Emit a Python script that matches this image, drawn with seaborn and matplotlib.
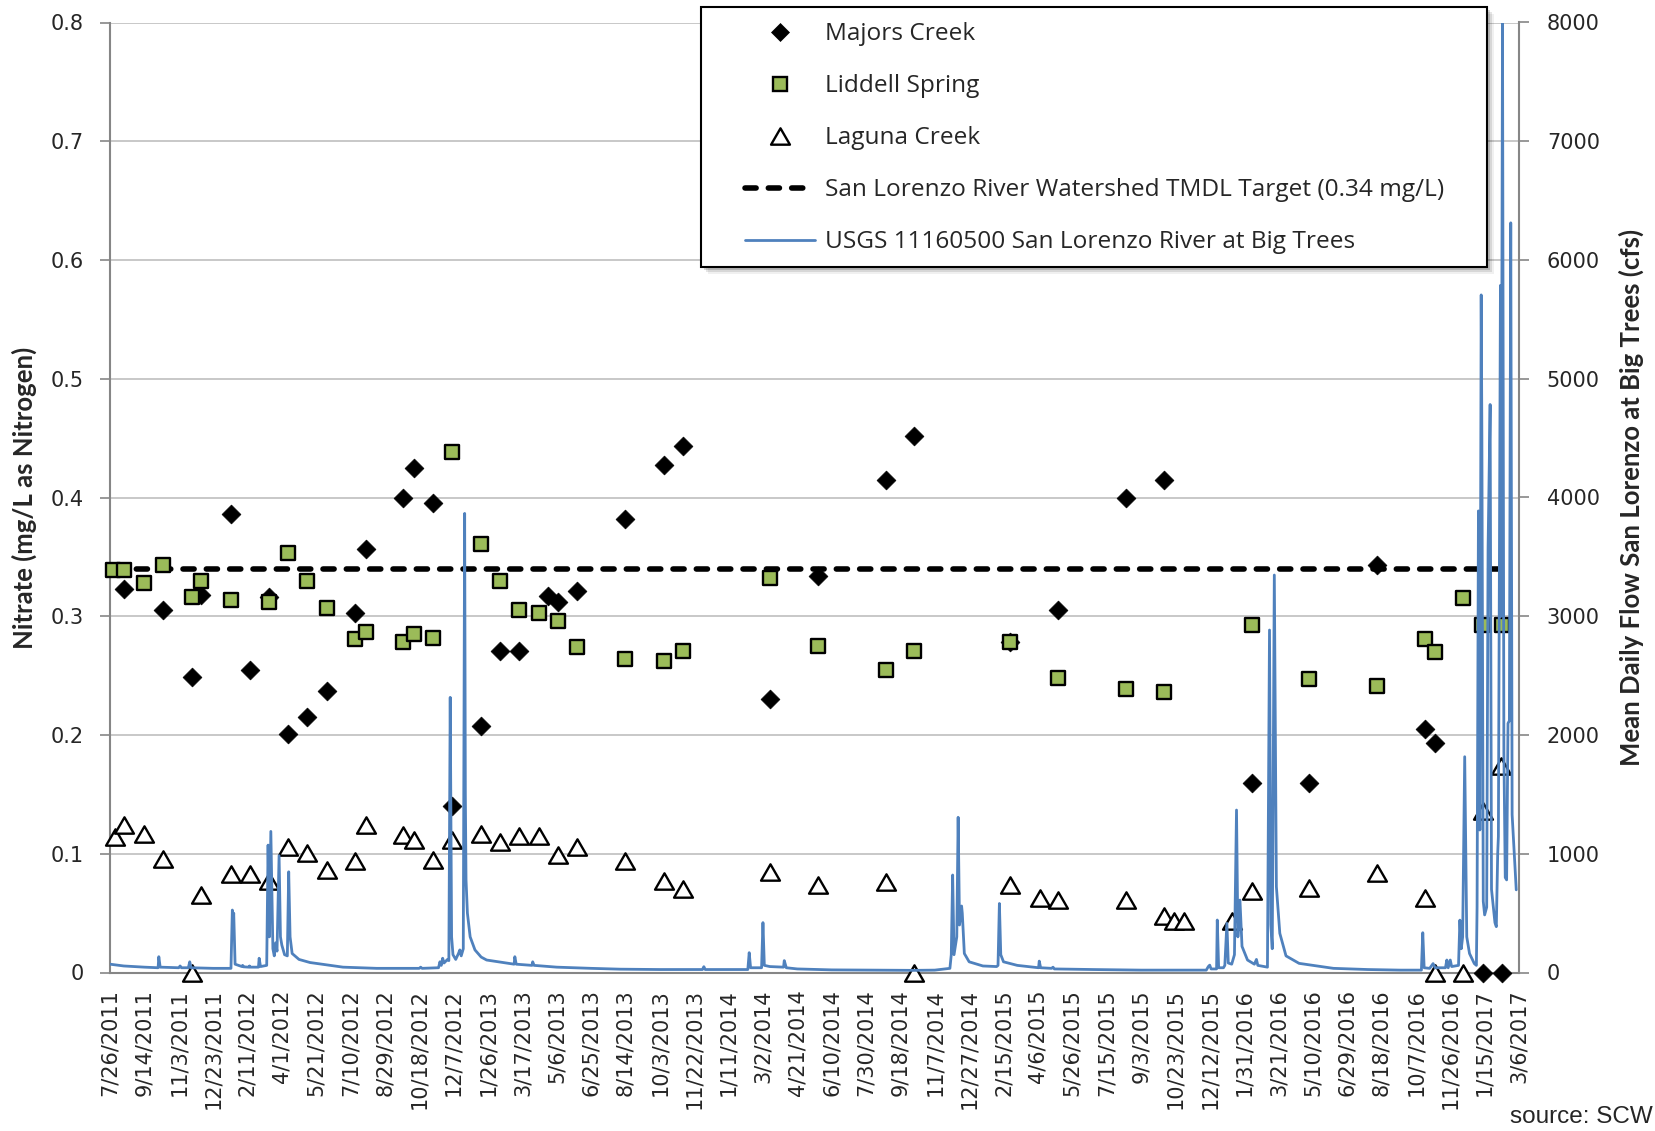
import numpy as np
import pandas as pd
import matplotlib
matplotlib.use("Agg")
import matplotlib.pyplot as plt
from matplotlib.lines import Line2D
from matplotlib.patches import Rectangle
from matplotlib.path import Path
from matplotlib.ticker import FuncFormatter
from matplotlib.font_manager import FontProperties
import seaborn as sns

# ---------------- data ----------------
START = "2011-07-26"
END = "2017-03-06"
TICK_STEP_DAYS = 50

# sample dates are given as days after 7/26/2011
majors_day = [21, 77, 119, 133, 176, 203, 231, 259, 287, 315, 357, 372, 427, 442, 470,
              497, 540, 567, 595, 637, 652, 680, 750, 806, 834, 960, 1030, 1129, 1170,
              1310, 1380, 1478, 1534, 1661, 1745, 1843, 1913, 1928, 1998, 2025]
majors_no3 = [0.323, 0.305, 0.249, 0.318, 0.386, 0.255, 0.316, 0.201, 0.215, 0.237,
              0.303, 0.357, 0.400, 0.425, 0.395, 0.140, 0.208, 0.271, 0.271, 0.317,
              0.312, 0.321, 0.382, 0.427, 0.443, 0.230, 0.334, 0.415, 0.452, 0.278,
              0.305, 0.400, 0.415, 0.160, 0.160, 0.343, 0.205, 0.193, 0.0, 0.0]

liddell_day = [4, 21, 49, 77, 119, 133, 176, 231, 259, 287, 315, 357, 372, 427, 442, 470,
               497, 540, 567, 595, 624, 652, 680, 750, 806, 834, 960, 1030, 1129, 1170,
               1310, 1380, 1478, 1534, 1661, 1745, 1843, 1913, 1928, 1969, 1996, 2025]
liddell_no3 = [0.339, 0.339, 0.328, 0.343, 0.316, 0.330, 0.314, 0.312, 0.353, 0.330,
               0.307, 0.281, 0.287, 0.278, 0.285, 0.282, 0.438, 0.361, 0.330, 0.305,
               0.303, 0.296, 0.274, 0.264, 0.262, 0.271, 0.332, 0.275, 0.255, 0.271,
               0.278, 0.248, 0.239, 0.236, 0.293, 0.247, 0.241, 0.281, 0.270, 0.315,
               0.293, 0.293]

laguna_day = [7, 21, 49, 77, 119, 133, 176, 203, 231, 259, 287, 315, 357, 372, 427, 442,
              470, 497, 540, 567, 595, 624, 652, 680, 750, 806, 834, 960, 1030, 1129,
              1170, 1310, 1353, 1380, 1478, 1534, 1548, 1562, 1632, 1661, 1745, 1843,
              1913, 1928, 1969, 1997, 2024]
laguna_no3 = [0.114, 0.124, 0.117, 0.096, 0.0, 0.065, 0.083, 0.083, 0.077, 0.106,
              0.101, 0.086, 0.094, 0.124, 0.116, 0.112, 0.095, 0.112, 0.117, 0.110,
              0.115, 0.115, 0.099, 0.106, 0.094, 0.077, 0.070, 0.085, 0.074, 0.076,
              0.0, 0.074, 0.063, 0.061, 0.061, 0.048, 0.043, 0.043, 0.043, 0.069,
              0.071, 0.084, 0.063, 0.0, 0.0, 0.136, 0.174]

tmdl_target = 0.34

# USGS daily flow (cfs), read at the visible turning points of the hydrograph
flow_day = [0, 20, 50, 70, 71, 73, 100, 102, 104, 114, 116, 118, 150, 176, 178, 179, 180,
            182, 192, 193, 194, 202, 203, 204, 216, 217, 219, 228, 230, 232, 234, 237, 239,
            241, 243, 246, 248, 250, 254, 258, 260, 262, 265, 275, 291, 320, 339, 388, 450,
            452, 454, 478, 480, 482, 484, 486, 491, 493, 495, 497, 499, 503, 507, 509, 511,
            514, 516, 517, 518, 520, 524, 531, 540, 548, 582, 588, 589, 591, 614, 615, 617,
            650, 700, 742, 800, 862, 864, 866, 928, 930, 932, 948, 950, 952, 960, 980, 981,
            984, 1000, 1050, 1100, 1169, 1200, 1215, 1222, 1224, 1226, 1228, 1232, 1234,
            1236, 1239, 1240, 1243, 1250, 1270, 1290, 1292, 1294, 1296, 1300, 1320, 1351,
            1352, 1354, 1370, 1372, 1374, 1430, 1500, 1595, 1598, 1600, 1602, 1610, 1611,
            1613, 1620, 1622, 1625, 1627, 1632, 1636, 1639, 1641, 1644, 1647, 1655, 1665,
            1668, 1670, 1684, 1687, 1689, 1691, 1694, 1697, 1702, 1711, 1730, 1780, 1830,
            1877, 1908, 1910, 1912, 1920, 1925, 1928, 1943, 1945, 1947, 1950, 1952, 1962,
            1964, 1966, 1968, 1971, 1974, 1978, 1985, 1988, 1989, 1991, 1993, 1995, 1996,
            1998, 2000, 2003, 2005, 2008, 2010, 2015, 2017, 2019, 2020, 2023, 2024, 2026,
            2028, 2030, 2032, 2034, 2036, 2038, 2040, 2046]
flow_cfs = [70, 55, 45, 40, 133, 45, 40, 55, 40, 40, 90, 40, 35, 35, 526, 400, 500,
            70, 50, 60, 48, 45, 55, 45, 45, 120, 50, 60, 1073, 300, 1188, 200, 140,
            250, 180, 983, 300, 231, 150, 140, 848, 300, 160, 110, 84, 60, 45, 35, 35,
            45, 35, 40, 90, 60, 120, 80, 110, 100, 2317, 300, 150, 110, 160, 190, 140,
            200, 3866, 1500, 780, 500, 300, 190, 130, 105, 75, 70, 133, 70, 60, 90, 60,
            45, 35, 28, 25, 25, 49, 25, 25, 167, 40, 40, 420, 60, 50, 45, 100,
            40, 30, 22, 20, 18, 20, 30, 35, 150, 821, 150, 300, 1307,
            400, 560, 500, 160, 90, 55, 50, 60, 581, 150, 90, 60, 40,
            96, 40, 35, 45, 30, 25, 20, 20, 50, 62, 30, 30, 442,
            40, 40, 60, 414, 80, 70, 150, 1368, 300, 610, 220, 105, 70,
            110, 60, 45, 2884, 400, 200, 3347, 723, 330, 140, 77, 35, 25,
            20, 20, 335, 40, 35, 75, 40, 40, 105, 40, 105, 50, 60,
            441, 200, 300, 1817, 300, 160, 75, 60, 554, 3887, 1200, 5706, 4494,
            600, 485, 550, 3570, 4783, 700, 420, 386, 1000, 1144, 5786, 3000, 7990,
            1856, 800, 780, 2098, 2120, 6313, 1329, 696]

# ---------------- frames ----------------
t0 = pd.Timestamp(START)
def to_dates(days):
    return t0 + pd.to_timedelta(np.asarray(days, dtype=float), unit="D")

majors = pd.DataFrame({"date": to_dates(majors_day), "no3": majors_no3})
liddell = pd.DataFrame({"date": to_dates(liddell_day), "no3": liddell_no3})
laguna = pd.DataFrame({"date": to_dates(laguna_day), "no3": laguna_no3})
flow = pd.DataFrame({"date": to_dates(flow_day), "cfs": flow_cfs})
all_days = majors_day + liddell_day + laguna_day
tmdl = pd.DataFrame({"date": to_dates([min(all_days), max(all_days)]),
                     "no3": [tmdl_target, tmdl_target]})

# ---------------- style ----------------
sns.set_style("white")
plt.rcParams["font.family"] = ["DejaVu Sans"]
GRAY = "#868686"
BLUE = "#4F81BD"
GREEN = "#9BBB59"

W, H = 1655, 1131
fig = plt.figure(figsize=(W / 100, H / 100), dpi=100)
L, R, T, B = 110, 1519, 22.5, 972.5
ax = fig.add_axes([L / W, 1 - B / H, (R - L) / W, (B - T) / H])
ax2 = ax.twinx()

tri = Path([(0, 0.433), (-0.5, -0.433), (0.5, -0.433), (0, 0.433)],
           [Path.MOVETO, Path.LINETO, Path.LINETO, Path.CLOSEPOLY])

# TMDL target
sns.lineplot(data=tmdl, x="date", y="no3", ax=ax, color="black", linewidth=4,
             linestyle=(0, (2.0, 2.2)), dash_capstyle="round", legend=False, zorder=2)
# samples
sns.scatterplot(data=majors, x="date", y="no3", ax=ax, marker="D", color="black",
                edgecolor="black", linewidth=0.5, s=92, clip_on=False, zorder=3, legend=False)
sns.scatterplot(data=liddell, x="date", y="no3", ax=ax, marker="s", color=GREEN,
                edgecolor="black", linewidth=1.7, s=112, clip_on=False, zorder=4, legend=False)
sns.scatterplot(data=laguna, x="date", y="no3", ax=ax, marker=tri, color="white",
                edgecolor="black", linewidth=1.7, s=185, clip_on=False, zorder=5, legend=False)
# flow
sns.lineplot(data=flow, x="date", y="cfs", ax=ax2, color=BLUE, linewidth=2.0,
             estimator=None, legend=False)

# ---------------- axes ----------------
ticks = pd.date_range(START, END, freq=f"{TICK_STEP_DAYS}D")
ax.set_xlim(pd.Timestamp(START), pd.Timestamp(END))
ax.set_xticks(ticks)
ax.set_xticklabels([f"{t.month}/{t.day}/{t.year}" for t in ticks], rotation=90,
                   ha="center", va="top")
ax.set_ylim(0, 0.8)
ax.set_yticks(np.round(np.arange(0, 0.81, 0.1), 1))
ax.yaxis.set_major_formatter(FuncFormatter(lambda v, p: "0" if v == 0 else f"{v:.1f}"))
ax2.set_ylim(0, 8000)
ax2.set_yticks(np.arange(0, 8001, 1000))
ax2.yaxis.set_major_formatter(FuncFormatter(lambda v, p: f"{int(v)}"))

ax.yaxis.grid(True, color="#BFBFBF", linewidth=1.2)
ax.xaxis.grid(False)
ax.set_axisbelow(True)

for a in (ax, ax2):
    for s in a.spines.values():
        s.set_visible(False)
ax.spines["left"].set_visible(True)
ax.spines["bottom"].set_visible(True)
ax2.spines["right"].set_visible(True)
for s in (ax.spines["left"], ax.spines["bottom"], ax2.spines["right"]):
    s.set_color(GRAY)
    s.set_linewidth(1.5)

ax.tick_params(axis="y", direction="out", length=7, width=1.2, color=GRAY,
               labelsize=15, pad=12, left=True)
ax.tick_params(axis="x", length=0, pad=12, labelsize=15)
ax2.tick_params(axis="y", direction="out", length=7, width=1.2, color=GRAY,
                labelsize=15, pad=13, right=True)

ax.set_xlabel("")
ax.set_ylabel("Nitrate (mg/L as Nitrogen)", fontfamily="Lato", fontweight="bold",
              fontsize=18.5)
ax2.set_ylabel("Mean Daily Flow San Lorenzo at Big Trees (cfs)", fontfamily="Lato",
               fontweight="bold", fontsize=18.5, rotation=90)
ax.yaxis.set_label_coords((24 - L) / (R - L), 0.5)
ax2.yaxis.set_label_coords((1631 - L) / (R - L), 0.5)
ax.yaxis.label.set_verticalalignment("center")
ax2.yaxis.label.set_verticalalignment("center")

# ---------------- legend box ----------------
fx0, fx1, fy0, fy1 = 701, 1487, 6.7, 266.7
for k, al in ((7, 0.06), (5, 0.10), (3, 0.16)):
    fig.add_artist(Rectangle(((fx0 + k) / W, 1 - (fy1 + k) / H), (fx1 - fx0) / W,
                             (fy1 - fy0) / H, transform=fig.transFigure,
                             facecolor="black", edgecolor="none", alpha=al, zorder=4))
fig.add_artist(Rectangle((fx0 / W, 1 - fy1 / H), (fx1 - fx0) / W, (fy1 - fy0) / H,
                         transform=fig.transFigure, facecolor="white",
                         edgecolor="black", linewidth=1.5, zorder=4.5))

handles = [
    Line2D([], [], marker="D", color="black", linestyle="none", markersize=9.6,
           markeredgewidth=0.5),
    Line2D([], [], marker="s", markerfacecolor=GREEN, markeredgecolor="black",
           markeredgewidth=1.7, linestyle="none", markersize=10.6),
    Line2D([], [], marker=tri, markerfacecolor="white", markeredgecolor="black",
           markeredgewidth=1.7, linestyle="none", markersize=13.6),
    Line2D([], [], color="black", linewidth=4, linestyle=(0, (2.0, 2.2)),
           dash_capstyle="round"),
    Line2D([], [], color=BLUE, linewidth=2.0),
]
labels = ["Majors Creek", "Liddell Spring", "Laguna Creek",
          "San Lorenzo River Watershed TMDL Target (0.34 mg/L)",
          "USGS 11160500 San Lorenzo River at Big Trees"]
leg = fig.legend(handles, labels, loc="upper left",
                 bbox_to_anchor=(745 / W, 1 - 22.5 / H), bbox_transform=fig.transFigure,
                 frameon=False, borderpad=0, borderaxespad=0, handlelength=2.88,
                 handletextpad=0.41, labelspacing=1.145, numpoints=1,
                 prop=FontProperties(family="Open Sans", size=17.6))
leg.set_zorder(5)

fig.text(1653 / W, 1 - 1117 / H, "source: SCW", ha="right", va="center",
         fontsize=17.5, family=["Liberation Sans Narrow", "Liberation Sans"])

fig.savefig("out.png", dpi=100)
